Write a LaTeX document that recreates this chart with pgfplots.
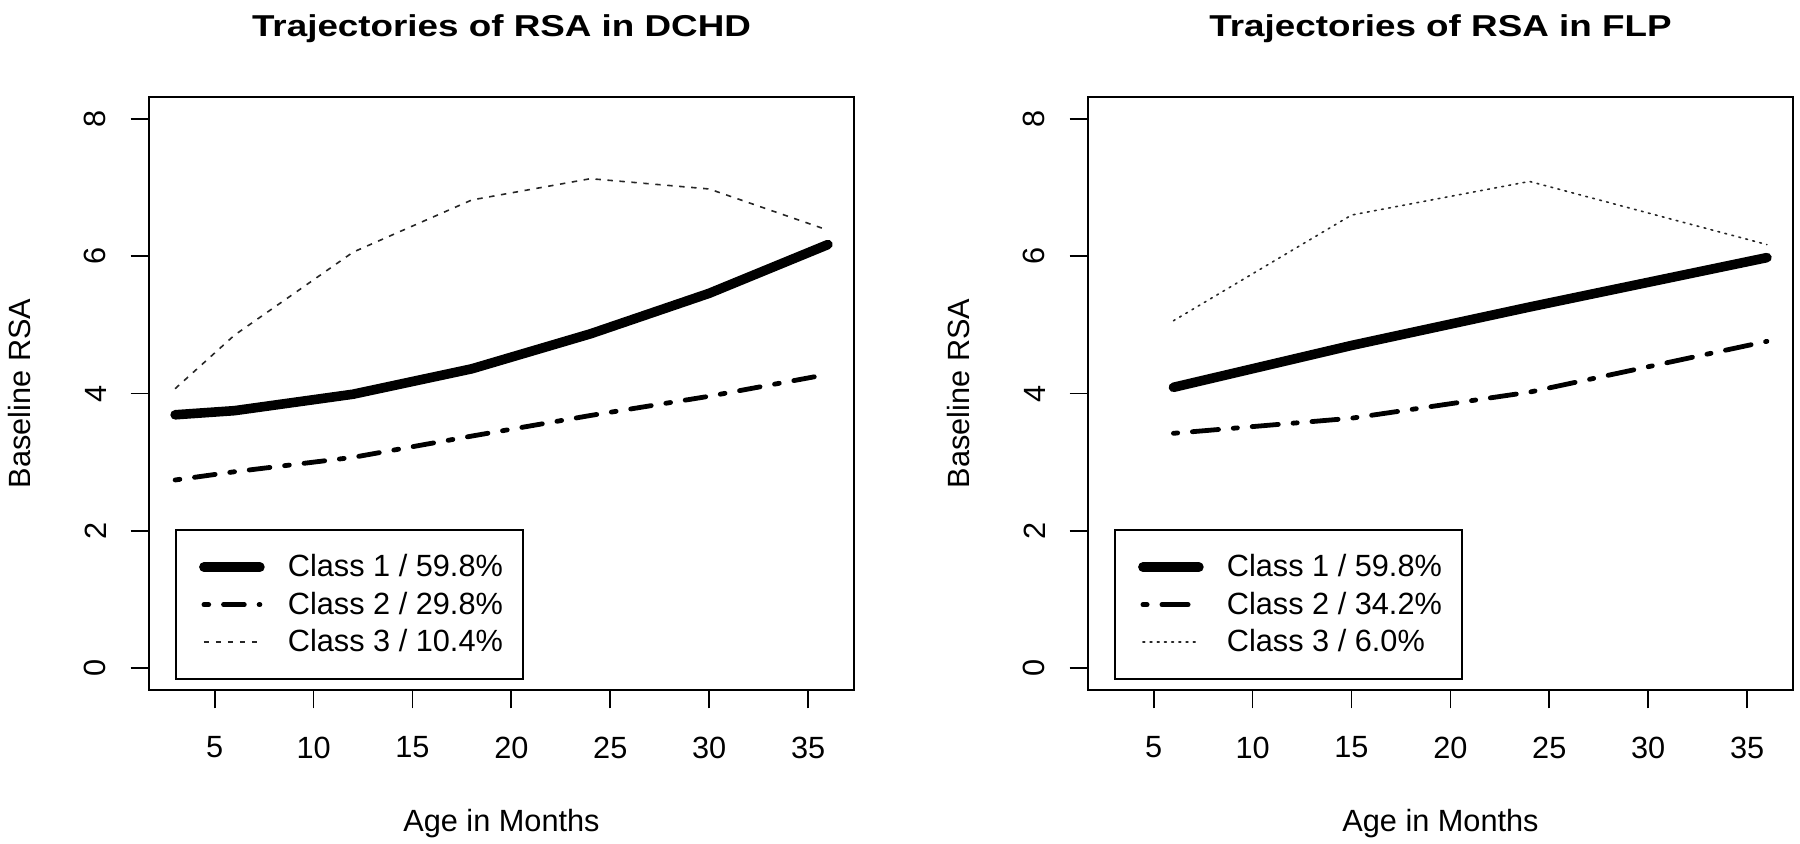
\documentclass[border=0pt]{standalone}
\usepackage{fontspec}
\setmainfont{Liberation Sans}
\usepackage{graphicx}
\usepackage{pgfplots}
\pgfplotsset{compat=1.18}
\newcommand\fs{\fontsize{15.35pt}{18pt}\selectfont}
\newcommand\ttl[1]{\scalebox{1}[0.82]{\fontsize{18.4pt}{22pt}\selectfont\bfseries #1}}
\newcommand\lgd[1]{\makebox[117.5pt][l]{#1}}
\pgfplotsset{
  rstyle/.style={
    scale only axis, width=352.5pt, height=296.5pt,
    xmin=1.68, xmax=37.32, ymin=-0.32, ymax=8.32,
    xtick={5,10,15,20,25,30,35}, ytick={0,2,4,6,8},
    tick align=outside, xtick pos=bottom, ytick pos=left,
    major tick length=9.2pt,
    every tick/.style={black, line width=0.9pt},
    axis line style={line width=0.9pt},
    tick label style={font=\fs},
    /pgf/number format/assume math mode=true,
    xticklabel style={anchor=north, inner sep=0pt, yshift=-14pt},
    yticklabel style={xshift=-12pt, rotate=90, anchor=south, inner sep=0pt},
    label style={font=\fs},
    xlabel={Age in Months}, ylabel={Baseline RSA},
    xlabel style={at={(axis description cs:0.5,-0.226)}, anchor=center},
    ylabel style={at={(axis description cs:-0.183,0.5)}, anchor=center},
    title style={at={(axis description cs:0.5,1.108)}, anchor=base, inner sep=0pt, yshift=-7.8pt},
    legend style={at={(0.0369,0.0169)}, anchor=south west, draw=black, line width=0.9pt,
      inner xsep=0pt, inner ysep=9.1pt, row sep=0pt, column sep=0pt, font=\fs,
      cells={anchor=west}, nodes={inner sep=0pt}},
    legend image code/.code={\path[draw=none,fill=none] (-14pt,-9.375pt) rectangle (42pt,9.375pt);
      \draw[##1] (0pt,0pt) -- (28pt,0pt);},
  },
  c1/.style={black, line width=4.8pt, line cap=round, line join=round},
}
\begin{document}
\begin{tikzpicture}
\path[use as bounding box] (0,0) rectangle (900pt,421.5pt);
\begin{axis}[rstyle, at={(74.5pt,76.5pt)}, anchor=south west,
  title={\ttl{Trajectories of RSA in DCHD}}]
\addplot[c1] coordinates {(3,3.69) (6,3.75) (12,3.99) (18,4.36) (24,4.87) (30,5.46) (36,6.17)};
\addplot[black, line width=2.4pt, line cap=round, line join=round,
  dash pattern=on 2.4pt off 7.4pt on 10.4pt off 7.4pt]
  coordinates {(3,2.74) (6,2.86) (12,3.07) (18,3.38) (24,3.68) (30,3.96) (36,4.28)};
\addplot[black!85, line width=0.8pt, dash pattern=on 2.7pt off 3.3pt]
  coordinates {(3,4.07) (6,4.85) (12,6.06) (18,6.82) (24,7.13) (30,6.98) (36,6.38)};
\legend{\lgd{Class 1 / 59.8\%},\lgd{Class 2 / 29.8\%},\lgd{Class 3 / 10.4\%}}
\end{axis}
\begin{axis}[rstyle, at={(544pt,76.5pt)}, anchor=south west,
  title={\ttl{Trajectories of RSA in FLP}}]
\addplot[c1] coordinates {(6,4.09) (15,4.70) (24,5.26) (36,5.98)};
\addplot[black, line width=2.4pt, line cap=round, line join=round,
  dash pattern=on 2.1pt off 7.4pt on 13.1pt off 7.4pt]
  coordinates {(6,3.42) (15,3.64) (24,4.02) (36,4.76)};
\addplot[black!85, line width=0.8pt, line cap=round, dash pattern=on 0.9pt off 2.7pt]
  coordinates {(6,5.06) (15,6.60) (24,7.09) (36,6.17)};
\legend{\lgd{Class 1 / 59.8\%},\lgd{Class 2 / 34.2\%},\lgd{Class 3 / 6.0\%}}
\end{axis}
\end{tikzpicture}
\end{document}
